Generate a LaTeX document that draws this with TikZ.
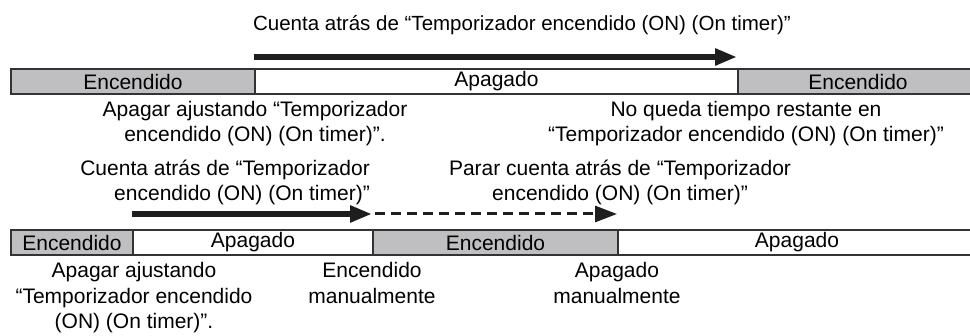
\documentclass[tikz,border=0pt]{standalone}
\usepackage{fontspec}
\setmainfont{Liberation Sans}
\usetikzlibrary{arrows.meta}
\definecolor{segon}{RGB}{191,191,194}
\definecolor{edge}{RGB}{51,51,51}
\definecolor{ink}{RGB}{30,30,30}
\tikzset{
  seg/.style={draw=edge, line width=2pt, minimum height=25pt, inner sep=0pt,
    anchor=north west, font=\fontsize{21}{25}\selectfont},
  onseg/.style={seg, fill=segon},
  offseg/.style={seg, fill=white},
  lbl/.style={inner sep=0pt, align=center, anchor=base,
    font=\fontsize{21}{25.5}\selectfont, text=black},
  bigarrow/.style={draw=ink, line width=6pt, -{Triangle[length=22pt,width=16pt]}},
  dasharrow/.style={draw=ink, line width=3pt, dash pattern=on 10pt off 6pt,
    -{Triangle[length=22pt,width=16pt]}},
}
\begin{document}
\begin{tikzpicture}[x=1pt,y=-1pt]
\useasboundingbox (0,0) rectangle (970,336);
% top bar
\node[onseg, minimum width=244pt] (t1) at (10,68) {Encendido};
\node[offseg, minimum width=483pt] (t2) at (254,68) {Apagado};
\node[onseg, minimum width=240pt] (t3) at (737,68) {Encendido};
% bottom bar
\node[onseg, minimum width=122pt] (b1) at (10,229) {Encendido};
\node[offseg, minimum width=240pt] (b2) at (132,229) {Apagado};
\node[onseg, minimum width=245pt] (b3) at (372,229) {Encendido};
\node[offseg, minimum width=358pt] (b4) at (617,229) {Apagado};
% arrows
\draw[bigarrow] ([yshift=11pt]t2.north west) -- ([yshift=11pt]t3.north west);
\draw[bigarrow] ([yshift=15pt]b2.north west) -- ([yshift=15pt]b3.north west);
\draw[dasharrow] ([yshift=15pt,xshift=3pt]b3.north west) -- ([yshift=15pt]b4.north west);
% labels (base anchor = baseline of last line)
\node[lbl, font=\fontsize{20.5}{25}\selectfont] (title) at (522,31) {Cuenta atrás de “Temporizador encendido (ON) (On timer)”};
\node[lbl] (n1) at (255,142) {Apagar ajustando “Temporizador\\encendido (ON) (On timer)”.};
\node[lbl] (n2) at (746,142) {No queda tiempo restante en\\“Temporizador encendido (ON) (On timer)”};
\node[lbl, align=right, anchor=base east] (n3) at (370,201) {Cuenta atrás de “Temporizador\\encendido (ON) (On timer)”};
\node[lbl] (n4) at (620,201) {Parar cuenta atrás de “Temporizador\\encendido (ON) (On timer)”};
\node[lbl] (n5) at (134,329) {Apagar ajustando\\“Temporizador encendido\\(ON) (On timer)”.};
\node[lbl] (n6) at (372,303.5) {Encendido\\manualmente};
\node[lbl] (n7) at (617,303.5) {Apagado\\manualmente};
\end{tikzpicture}
\end{document}
